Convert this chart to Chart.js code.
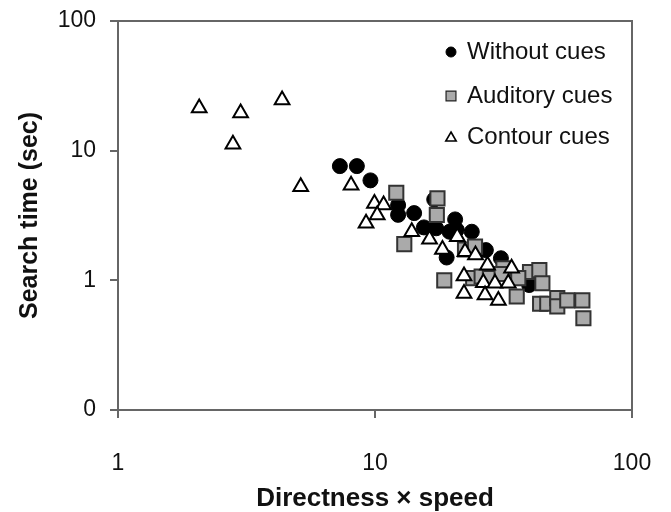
<!DOCTYPE html>
<html>
<head>
<meta charset="utf-8">
<script src="https://cdn.jsdelivr.net/npm/chart.js@4.4.1/dist/chart.umd.min.js"></script>
<style>
  html, body { margin: 0; padding: 0; background: #fff; }
  #wrap { width: 671px; height: 512px; }
</style>
</head>
<body>
<div id="wrap"><canvas id="searchChart" width="671" height="512"></canvas></div>
<script>
// series (log-log)
var seriesNames = ['Without cues', 'Auditory cues', 'Contour cues'];

var withoutX = [7.3, 8.5, 9.6, 12.3, 12.3, 14.2, 17.0, 20.5, 15.5, 17.3, 19.5, 20.8, 23.8, 19.0, 27.0, 30.9, 39.8];
var withoutY = [7.6, 7.6, 5.9, 3.8, 3.2, 3.3, 4.2, 2.95, 2.56, 2.52, 2.37, 2.45, 2.37, 1.5, 1.71, 1.48, 0.92];

var auditoryX = [12.1, 17.5, 17.4, 13.0, 22.4, 24.5, 31.6, 40.1, 43.6, 36.1, 44.8, 18.6, 24.1, 26.0, 28.0, 31.1, 35.6, 43.9, 46.8, 51.2, 51.2, 56.0, 64.1, 64.7];
var auditoryY = [4.74, 4.29, 3.19, 1.9, 1.73, 1.82, 1.24, 1.16, 1.2, 1.04, 0.95, 1.0, 1.04, 1.07, 1.04, 1.12, 0.75, 0.66, 0.66, 0.73, 0.63, 0.70, 0.70, 0.51];

var contourX = [2.07, 3.0, 2.8, 4.35, 5.14, 8.07, 9.95, 10.8, 10.2, 9.23, 13.9, 16.3, 20.9, 18.3, 22.4, 24.6, 27.4, 34.0, 22.2, 26.4, 29.3, 33.0, 22.2, 26.8, 30.2];
var contourY = [21.3, 19.5, 11.2, 24.6, 5.27, 5.4, 3.92, 3.81, 3.19, 2.75, 2.37, 2.07, 2.17, 1.73, 1.66, 1.57, 1.31, 1.24, 1.08, 0.96, 0.95, 0.95, 0.79, 0.77, 0.70];

var xTicks = [1, 10, 100];
var yTicks = [0.1, 1, 10, 100];
var yTickLabels = ['0', '1', '10', '100'];

function toPoints(xs, ys) {
  return xs.map(function(x, i) { return { x: x, y: ys[i] }; });
}

var FONT = '"Liberation Sans", Arial, sans-serif';

// frame on top/right + legend inside the plot
var framePlugin = {
  id: 'frame',
  afterDraw: function(chart) {
    var ctx = chart.ctx, a = chart.chartArea;
    ctx.save();
    ctx.strokeStyle = '#666';
    ctx.lineWidth = 2;
    ctx.beginPath();
    ctx.moveTo(a.left, a.top);
    ctx.lineTo(a.right, a.top);
    ctx.lineTo(a.right, a.bottom);
    ctx.stroke();

    var ys = [a.top + 31, a.top + 75, a.top + 116];
    var mx = a.right - 181, tx = a.right - 165;
    var styles = [
      { pointStyle: 'circle', radius: 5, backgroundColor: '#000', borderColor: '#000', borderWidth: 1 },
      { pointStyle: 'rect', radius: 7, backgroundColor: '#aaa', borderColor: '#222', borderWidth: 1.2 },
      { pointStyle: 'triangle', radius: 6, backgroundColor: '#fff', borderColor: '#000', borderWidth: 1.6 }
    ];
    ctx.font = '24px ' + FONT;
    ctx.textBaseline = 'middle';
    ctx.textAlign = 'left';
    chart.data.datasets.forEach(function(ds, i) {
      var s = styles[i];
      ctx.fillStyle = s.backgroundColor;
      ctx.strokeStyle = s.borderColor;
      ctx.lineWidth = s.borderWidth;
      Chart.helpers.drawPoint(ctx, { pointStyle: s.pointStyle, radius: s.radius, rotation: 0, borderWidth: s.borderWidth }, mx, ys[i] + (i === 2 ? 1 : 0));
      ctx.fillStyle = '#111';
      ctx.fillText(ds.label, tx, ys[i]);
    });
    ctx.restore();
  }
};

var chart = new Chart(document.getElementById('searchChart').getContext('2d'), {
  type: 'scatter',
  data: {
    datasets: [
      {
        label: seriesNames[0],
        data: toPoints(withoutX, withoutY),
        pointStyle: 'circle',
        pointRadius: 7.5,
        backgroundColor: '#000',
        borderColor: '#000',
        borderWidth: 1,
        order: 3
      },
      {
        label: seriesNames[1],
        data: toPoints(auditoryX, auditoryY),
        pointStyle: 'rect',
        pointRadius: 10,
        backgroundColor: '#aaa',
        borderColor: '#333',
        borderWidth: 2,
        order: 2
      },
      {
        label: seriesNames[2],
        data: toPoints(contourX, contourY),
        pointStyle: 'triangle',
        pointRadius: 8.5,
        backgroundColor: '#fff',
        borderColor: '#000',
        borderWidth: 2,
        order: 1
      }
    ]
  },
  options: {
    responsive: false,
    animation: false,
    layout: { padding: { left: 0, top: 21, right: 39, bottom: 0 } },
    plugins: {
      legend: { display: false },
      tooltip: { enabled: false }
    },
    scales: {
      x: {
        type: 'logarithmic',
        min: 1,
        max: 100,
        afterBuildTicks: function(scale) {
          scale.ticks = xTicks.map(function(v) { return { value: v }; });
        },
        afterFit: function(scale) {
          scale.height = 102;
          scale.paddingLeft = 0;
          scale.paddingRight = 0;
        },
        ticks: {
          color: '#111',
          font: { family: FONT, size: 23 },
          padding: 32,
          maxRotation: 0,
          callback: function(v) { return String(v); }
        },
        grid: { drawOnChartArea: false, drawTicks: true, tickLength: 8, color: '#666', lineWidth: 2 },
        border: { display: true, color: '#666', width: 2 },
        title: {
          display: true,
          text: 'Directness × speed',
          color: '#111',
          font: { family: FONT, size: 26, weight: 'bold', lineHeight: 1 },
          padding: { top: 0, bottom: 0 }
        }
      },
      y: {
        type: 'logarithmic',
        min: 0.1,
        max: 100,
        afterBuildTicks: function(scale) {
          scale.ticks = yTicks.map(function(v) { return { value: v }; });
        },
        afterFit: function(scale) {
          scale.width = 118;
          scale.paddingTop = 0;
          scale.paddingBottom = 0;
        },
        ticks: {
          color: '#111',
          font: { family: FONT, size: 23 },
          padding: 14,
          callback: function(v) {
            var i = yTicks.indexOf(v);
            return i >= 0 ? yTickLabels[i] : '';
          }
        },
        grid: { drawOnChartArea: false, drawTicks: true, tickLength: 8, color: '#666', lineWidth: 2 },
        border: { display: true, color: '#666', width: 2 },
        title: {
          display: true,
          text: 'Search time (sec)',
          color: '#111',
          font: { family: FONT, size: 25, weight: 'bold', lineHeight: 1 },
          padding: { top: 18, bottom: 0 }
        }
      }
    }
  },
  plugins: [framePlugin]
});
</script>
</body>
</html>
